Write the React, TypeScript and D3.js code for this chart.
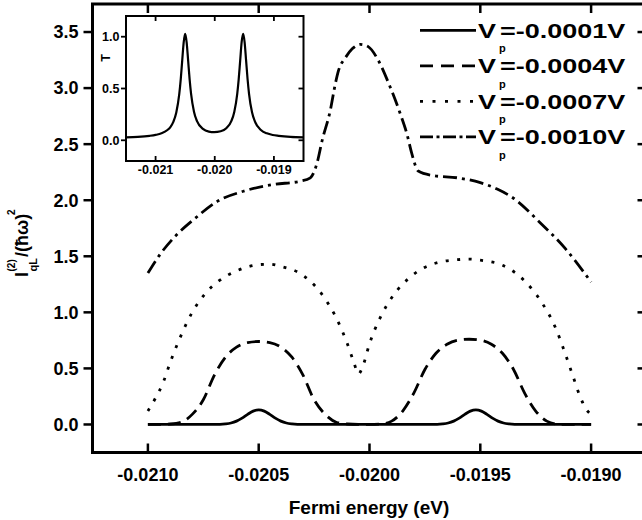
import React from "react";
import * as d3 from "d3";

// ---------- data ----------
const X_TICKS = [-0.021, -0.0205, -0.02, -0.0195, -0.019];
const Y_TICKS = [0, 0.5, 1, 1.5, 2, 2.5, 3, 3.5];
const INSET_X_TICKS = [-0.021, -0.02, -0.019];
const INSET_Y_TICKS = [0, 0.5, 1];

const LEGEND_LABELS = ["=-0.0001V", "=-0.0004V", "=-0.0007V", "=-0.0010V"];

// V_p = -0.0001 V
const SERIES_0001: [number, number][] = [
  [-0.021, 0], [-0.0209, 0], [-0.0208, 0], [-0.0207, 0], [-0.020675, 0.001],
  [-0.02065, 0.005], [-0.020625, 0.013], [-0.0206, 0.03], [-0.020575, 0.057],
  [-0.02055, 0.09], [-0.020525, 0.119], [-0.0205, 0.13], [-0.020475, 0.119],
  [-0.02045, 0.09], [-0.020425, 0.057], [-0.0204, 0.03], [-0.020375, 0.013],
  [-0.02035, 0.005], [-0.020325, 0.001], [-0.0203, 0], [-0.0202, 0], [-0.0201, 0],
  [-0.02, 0], [-0.0199, 0], [-0.0198, 0], [-0.01972, 0], [-0.019695, 0.001],
  [-0.01967, 0.005], [-0.019645, 0.013], [-0.01962, 0.03], [-0.019595, 0.057],
  [-0.01957, 0.09], [-0.019545, 0.119], [-0.01952, 0.13], [-0.019495, 0.119],
  [-0.01947, 0.09], [-0.019445, 0.057], [-0.01942, 0.03], [-0.019395, 0.013],
  [-0.01937, 0.005], [-0.019345, 0.001], [-0.01932, 0], [-0.0192, 0], [-0.0191, 0],
  [-0.019, 0],
];

// V_p = -0.0004 V
const SERIES_0004: [number, number][] = [
  [-0.021, 0], [-0.02095, 0], [-0.0209, 0.004], [-0.02085, 0.02], [-0.0208, 0.09],
  [-0.02075, 0.22], [-0.0207, 0.44], [-0.02065, 0.6], [-0.0206, 0.69],
  [-0.02055, 0.73], [-0.0205, 0.74], [-0.02045, 0.73], [-0.0204, 0.69],
  [-0.02035, 0.6], [-0.0203, 0.44], [-0.02025, 0.22], [-0.0202, 0.09],
  [-0.02015, 0.02], [-0.0201, 0.004], [-0.02005, 0], [-0.02, 0], [-0.01995, 0.003],
  [-0.0199, 0.03], [-0.01985, 0.12], [-0.0198, 0.28], [-0.01975, 0.49],
  [-0.0197, 0.635], [-0.01965, 0.715], [-0.0196, 0.752], [-0.01955, 0.76],
  [-0.0195, 0.752], [-0.01945, 0.715], [-0.0194, 0.635], [-0.01935, 0.49],
  [-0.0193, 0.28], [-0.01925, 0.12], [-0.0192, 0.03], [-0.01915, 0.003],
  [-0.0191, 0], [-0.019, 0],
];

// V_p = -0.0007 V
const SERIES_0007: [number, number][] = [
  [-0.021, 0.12], [-0.02097, 0.22], [-0.02093, 0.38], [-0.0209, 0.55],
  [-0.02086, 0.75], [-0.0208, 1.0], [-0.02074, 1.17], [-0.02068, 1.28],
  [-0.0206, 1.37], [-0.0205, 1.425], [-0.02045, 1.43], [-0.0204, 1.41],
  [-0.0203, 1.33], [-0.0202, 1.12], [-0.02015, 0.95], [-0.0201, 0.72],
  [-0.02007, 0.55], [-0.02005, 0.45], [-0.02003, 0.52], [-0.02, 0.72],
  [-0.01995, 0.96], [-0.0199, 1.13], [-0.0198, 1.34], [-0.0197, 1.44],
  [-0.0196, 1.47], [-0.01955, 1.475], [-0.0195, 1.465], [-0.0194, 1.42],
  [-0.0193, 1.28], [-0.01922, 1.08], [-0.01916, 0.86], [-0.01912, 0.65],
  [-0.01908, 0.42], [-0.01905, 0.25], [-0.01902, 0.13], [-0.019, 0.09],
];

// V_p = -0.0010 V
const SERIES_0010: [number, number][] = [
  [-0.021, 1.35], [-0.020944, 1.52], [-0.020876, 1.68], [-0.020786, 1.84],
  [-0.020687, 1.99], [-0.020569, 2.08], [-0.020434, 2.14], [-0.020312, 2.17],
  [-0.020267, 2.2], [-0.020237, 2.33], [-0.020214, 2.53], [-0.020177, 2.8],
  [-0.020154, 3.04], [-0.02014, 3.155], [-0.020109, 3.27], [-0.020078, 3.35],
  [-0.020042, 3.39], [-0.020006, 3.37], [-0.019961, 3.25], [-0.019915, 3.05],
  [-0.019861, 2.77], [-0.019831, 2.59], [-0.019809, 2.415], [-0.01978, 2.26],
  [-0.019713, 2.22], [-0.019604, 2.2], [-0.0195, 2.157], [-0.019424, 2.1],
  [-0.019352, 2.02], [-0.01923, 1.8], [-0.019117, 1.57], [-0.019, 1.27],
];

// inset: transmission T
const INSET_T: [number, number][] = [
  [-0.0215, 0.029], [-0.0213, 0.033], [-0.0211, 0.043], [-0.021, 0.052],
  [-0.0209, 0.067], [-0.0208, 0.099], [-0.02075, 0.128], [-0.0207, 0.178],
  [-0.02065, 0.268], [-0.0206, 0.445], [-0.020575, 0.588], [-0.02055, 0.769],
  [-0.020525, 0.946], [-0.0205, 1.027], [-0.020475, 0.946], [-0.02045, 0.771],
  [-0.020425, 0.59], [-0.0204, 0.448], [-0.02035, 0.273], [-0.0203, 0.185],
  [-0.0202, 0.11], [-0.0201, 0.084], [-0.02001, 0.079], [-0.0199, 0.087],
  [-0.0198, 0.119], [-0.01972, 0.185], [-0.01967, 0.274], [-0.01962, 0.449],
  [-0.019595, 0.591], [-0.01957, 0.772], [-0.019545, 0.949], [-0.01952, 1.027],
  [-0.019495, 0.946], [-0.01947, 0.769], [-0.019445, 0.589], [-0.01942, 0.446],
  [-0.01937, 0.27], [-0.01932, 0.18], [-0.01922, 0.099], [-0.01912, 0.067],
  [-0.01902, 0.051], [-0.01892, 0.043], [-0.01872, 0.033], [-0.0185, 0.029],
];

// ---------- layout ----------
const FONT = "'Liberation Sans', Arial, Helvetica, sans-serif";
const W = 642;
const H = 520;
const M = { left: 92.5, right: 646.5, top: 4, bottom: 452.5 };
const IN = { left: 126, right: 303.5, top: 16, bottom: 161 };

const SERIES = [SERIES_0001, SERIES_0004, SERIES_0007, SERIES_0010];
const DASHES = [undefined, "13,7", "3,8.5", "14,5,3,5"];
const LEGEND_DASHES = [undefined, "13,8", "3,9.5", "13,3.5,3,3.5"];

export default function App() {
  const x = d3.scaleLinear().domain([-0.02125, -0.01875]).range([M.left, M.right]);
  const y = d3.scaleLinear().domain([-0.25, 3.75]).range([M.bottom, M.top]);
  const ix = d3.scaleLinear().domain([-0.0215, -0.0185]).range([IN.left, IN.right]);
  const iy = d3.scaleLinear().domain([-0.2, 1.2]).range([IN.bottom, IN.top]);

  const line = d3
    .line<[number, number]>()
    .x((d) => x(d[0]))
    .y((d) => y(d[1]))
    .curve(d3.curveMonotoneX);
  const iline = d3
    .line<[number, number]>()
    .x((d) => ix(d[0]))
    .y((d) => iy(d[1]))
    .curve(d3.curveMonotoneX);

  const legendBaselines = [37.5, 73, 108.5, 144];

  return (
    <svg
      width={W}
      height={H}
      style={{ position: "absolute", left: 0, top: 0, background: "#fff" }}
      fontFamily={FONT}
      fontWeight="bold"
    >
      <defs>
        <clipPath id="insetClip">
          <rect x={IN.left} y={IN.top} width={IN.right - IN.left} height={IN.bottom - IN.top} />
        </clipPath>
      </defs>

      {/* data curves */}
      {SERIES.map((s, i) => (
        <path
          key={i}
          d={line(s) || ""}
          fill="none"
          stroke="#000"
          strokeWidth={2.8}
          strokeDasharray={DASHES[i]}
        />
      ))}

      {/* main frame */}
      <rect
        x={M.left}
        y={M.top}
        width={M.right - M.left}
        height={M.bottom - M.top}
        fill="none"
        stroke="#000"
        strokeWidth={3}
      />
      {/* y ticks: left outward, right inward */}
      {Y_TICKS.map((t) => (
        <g key={"y" + t}>
          <line x1={M.left - 9} x2={M.left} y1={y(t)} y2={y(t)} stroke="#000" strokeWidth={2.5} />
          <line x1={M.right - 9} x2={M.right} y1={y(t)} y2={y(t)} stroke="#000" strokeWidth={2.5} />
          <text x={78.5} y={y(t) + 6.4} textAnchor="end" fontSize={18}>
            {t.toFixed(1)}
          </text>
        </g>
      ))}
      {/* x ticks: bottom and top inward */}
      {X_TICKS.map((t) => (
        <g key={"x" + t}>
          <line x1={x(t)} x2={x(t)} y1={M.bottom} y2={M.bottom - 9} stroke="#000" strokeWidth={2.5} />
          <line x1={x(t)} x2={x(t)} y1={M.top} y2={M.top + 9} stroke="#000" strokeWidth={2.5} />
          <text x={x(t)} y={480.6} textAnchor="middle" fontSize={18}>
            {t.toFixed(4)}
          </text>
        </g>
      ))}

      {/* axis titles */}
      <text x={369} y={514} textAnchor="middle" fontSize={19}>
        Fermi energy (eV)
      </text>
      <g transform="translate(28,277) rotate(-90)">
        <text x={0} y={0} fontSize={18}>I</text>
        <text x={5.5} y={-13} fontSize={10}>(2)</text>
        <text x={5.5} y={9} fontSize={11}>qL</text>
        <text x={20} y={0} fontSize={18}>/(ħω)</text>
        <text x={62} y={-13} fontSize={10}>2</text>
      </g>

      {/* legend */}
      {LEGEND_LABELS.map((lab, i) => {
        const b = legendBaselines[i];
        return (
          <g key={"lg" + i}>
            <line
              x1={420}
              x2={476}
              y1={b - 7.2}
              y2={b - 7.2}
              stroke="#000"
              strokeWidth={2.8}
              strokeDasharray={LEGEND_DASHES[i]}
            />
            <g transform={`translate(478,${b})`}>
              <text transform="scale(1.35,1)" fontSize={20}>V</text>
              <text x={21} y={14.8} fontSize={11}>p</text>
              <text transform="translate(22,0) scale(1.35,1)" fontSize={20}>
                {lab}
              </text>
            </g>
          </g>
        );
      })}

      {/* inset */}
      <rect
        x={IN.left}
        y={IN.top}
        width={IN.right - IN.left}
        height={IN.bottom - IN.top}
        fill="#fff"
        stroke="none"
      />
      <path
        d={iline(INSET_T) || ""}
        fill="none"
        stroke="#000"
        strokeWidth={2.2}
        clipPath="url(#insetClip)"
      />
      <rect
        x={IN.left}
        y={IN.top}
        width={IN.right - IN.left}
        height={IN.bottom - IN.top}
        fill="none"
        stroke="#000"
        strokeWidth={2}
      />
      {INSET_Y_TICKS.map((t) => (
        <g key={"iy" + t}>
          <line x1={IN.left - 5} x2={IN.left} y1={iy(t)} y2={iy(t)} stroke="#000" strokeWidth={1.8} />
          <line x1={IN.right - 5} x2={IN.right} y1={iy(t)} y2={iy(t)} stroke="#000" strokeWidth={1.8} />
          <text x={119.5} y={iy(t) + 4.5} textAnchor="end" fontSize={12.5}>
            {t.toFixed(1)}
          </text>
        </g>
      ))}
      {INSET_X_TICKS.map((t) => (
        <g key={"ix" + t}>
          <line x1={ix(t)} x2={ix(t)} y1={IN.bottom} y2={IN.bottom - 5} stroke="#000" strokeWidth={1.8} />
          <line x1={ix(t)} x2={ix(t)} y1={IN.top} y2={IN.top + 5} stroke="#000" strokeWidth={1.8} />
          <text x={ix(t)} y={174} textAnchor="middle" fontSize={12.5}>
            {t.toFixed(3)}
          </text>
        </g>
      ))}
      <g transform="translate(110,58) rotate(-90)">
        <text textAnchor="middle" fontSize={12.5}>T</text>
      </g>
    </svg>
  );
}
